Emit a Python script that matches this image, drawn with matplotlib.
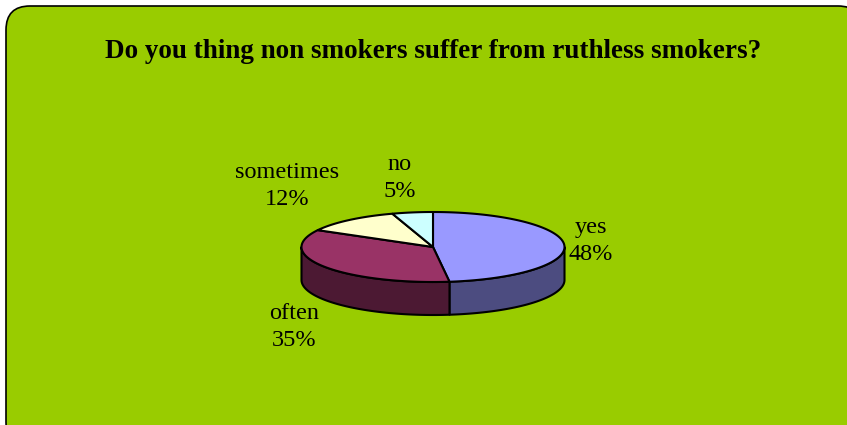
import numpy as np
import matplotlib
matplotlib.use("Agg")
import matplotlib.pyplot as plt
from matplotlib.patches import FancyBboxPatch, Polygon

# survey answers
labels = ["yes", "often", "sometimes", "no"]
shares = [48, 35, 12, 5]
top_colors = ["#9999FF", "#993366", "#FFFFCC", "#CCFFFF"]
side_colors = ["#4C4C80", "#4C1933", "#80805F", "#5F8080"]
title = "Do you thing non smokers suffer from ruthless smokers?"

# pie geometry in pixels (y grows downward)
cx, cy = 433, 247
ra, rb = 131.5, 35
depth = 33

label_pos = {"yes": (591, 241), "often": (294, 327),
             "sometimes": (287, 186), "no": (400, 178)}


def rim(t0, t1, n=120):
    t = np.radians(np.linspace(t0, t1, n))
    return cx + ra * np.sin(t), cy - rb * np.cos(t)


fig = plt.figure(figsize=(8.47, 4.25), dpi=100)
fig.patch.set_facecolor("white")
ax = fig.add_axes([0, 0, 1, 1])
ax.set_xlim(0, 847)
ax.set_ylim(425, 0)
ax.axis("off")

ax.add_patch(FancyBboxPatch((6, 6), 856, 440, boxstyle="round,pad=0,rounding_size=24",
                            facecolor="#99CC00", edgecolor="black", lw=1.2, zorder=0))

ax.text(433, 51, title, ha="center", va="center", fontsize=19.5, fontweight="bold",
        family="Liberation Serif", zorder=5)

total = float(sum(shares))
edges = np.concatenate([[0], np.cumsum(shares) / total * 360])

# front walls: only the part of each slice between 90 and 270 degrees
for i in range(len(shares)):
    t0, t1 = max(edges[i], 90), min(edges[i + 1], 270)
    if t1 <= t0:
        continue
    x, y = rim(t0, t1)
    pts = np.column_stack([np.concatenate([x, x[::-1]]),
                           np.concatenate([y, (y + depth)[::-1]])])
    ax.add_patch(Polygon(pts, closed=True, facecolor=side_colors[i],
                         edgecolor="black", lw=1.5, joinstyle="round", zorder=2))

# top faces
for i in range(len(shares)):
    x, y = rim(edges[i], edges[i + 1])
    pts = np.column_stack([np.concatenate([[cx], x]), np.concatenate([[cy], y])])
    ax.add_patch(Polygon(pts, closed=True, facecolor=top_colors[i],
                         edgecolor="black", lw=1.5, joinstyle="round", zorder=3))

for lab, val in zip(labels, shares):
    lx, ly = label_pos[lab]
    ax.text(lx, ly, f"{lab}\n{val}%", ha="center", va="center", fontsize=17.5,
            family="Liberation Serif", linespacing=1.42, zorder=5)

fig.savefig("out.png", dpi=100)
